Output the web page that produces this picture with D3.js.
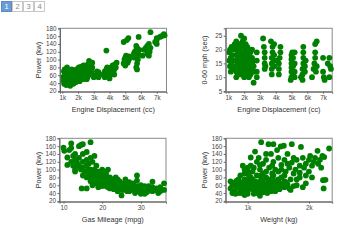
<!DOCTYPE html>
<html>
<head>
<meta charset="utf-8">
<script src="https://cdn.jsdelivr.net/npm/d3@7"></script>
<style>
  body { margin: 0; background: #fff; font-family: "Liberation Sans", Arial, sans-serif; }
  svg { display: block; }
</style>
</head>
<body>
<svg id="chart" width="350" height="248"></svg>
<script>
// displacement (k cc) vs power (kW)
const dispPower = [
  [1.1,70],[1.15,75],[1.3,80],[1.25,72],[1.2,65],[1.1,45],[1.12,38],[1.2,40],[1.25,35],[1.3,45],
  [1.35,50],[1.4,42],[1.45,38],[1.5,33],[1.55,40],[1.6,45],[1.5,50],[1.4,55],[1.3,58],[1.2,52],
  [1.45,60],[1.55,55],[1.6,62],[1.65,50],[1.7,38],[1.75,45],[1.8,52],[1.7,58],[1.8,65],[1.9,60],
  [1.95,48],[2.0,55],[2.0,65],[2.0,72],[2.05,80],[2.1,60],[2.15,68],[2.2,55],[2.25,62],[2.3,70],
  [2.3,50],[2.4,65],[2.45,58],[2.5,72],[2.55,65],[2.6,80],[2.6,55],[2.65,88],[2.7,97],[2.75,85],
  [2.8,75],[2.85,68],[2.5,85],[2.4,78],[2.2,82],[1.9,75],[1.85,42],[1.65,70],[2.1,45],[2.3,60],
  [2.55,50],[2.7,62],[2.9,80],[1.05,55],[1.15,60],[1.35,65],[1.6,75],[1.9,68],[2.15,75],[2.35,85],
  [2.9,92],[2.8,90],
  [3.0,55],[3.1,59],[3.3,68],[3.3,55],[3.3,62],[3.2,70],
  [3.8,123],[3.6,62],[3.7,70],[3.7,55],[3.8,65],[3.8,75],[3.85,80],[3.9,58],[3.95,68],[4.0,52],
  [4.0,72],[4.1,62],[4.1,80],[4.2,68],[4.2,85],[4.3,75],[4.35,88],[4.4,80],[4.45,92],[4.3,62],
  [4.9,90],[4.95,100],[5.0,95],[5.0,105],[5.05,110],[5.1,100],[5.15,92],[5.2,98],[5.25,108],[5.3,104],
  [4.9,145],[5.1,150],[5.2,155],[5.0,85],
  [5.55,115],[5.6,120],[5.65,110],[5.7,125],[5.75,130],[5.8,120],[5.85,112],[5.7,80],[5.75,90],[5.8,100],
  [5.7,135],[5.85,158],[5.9,125],[5.6,105],[5.75,75],
  [6.1,110],[6.2,125],[6.3,130],[6.4,135],[6.45,125],[6.5,140],[6.55,120],[6.5,110],[6.6,130],[6.6,170],[6.4,115],
  [6.9,145],[7.0,150],[7.0,155],[7.2,158],[7.3,160],[7.45,165],[7.5,162],[7.0,140]
];

// displacement (k cc) vs 0-60 mph (sec)
const dispAccel = [
  [1.05,16],[1.05,19],[1.1,20],[1.1,14],[1.15,17],[1.2,15],[1.25,18],[1.3,20],[1.3,13],[1.35,16],[1.2,21],[1.4,22],[1.15,12],
  [1.5,10],[1.5,12],[1.5,14],[1.5,16],[1.5,18],[1.5,20],[1.5,23],
  [1.6,11],[1.6,13],[1.6,15],[1.6,17],[1.6,19],[1.6,21],
  [1.7,12],[1.7,14],[1.7,16],[1.7,18],[1.7,20],[1.7,22],
  [1.8,11],[1.8,13],[1.8,15],[1.8,17],[1.8,19],[1.8,25],
  [1.9,12],[1.9,14],[1.9,16],[1.9,18],[1.9,21],[1.9,23],
  [2.0,10],[2.0,13],[2.0,15],[2.0,17],[2.0,19],[2.0,24],
  [2.1,11],[2.1,14],[2.1,16],[2.1,18],[2.1,20],[2.1,22],
  [2.2,12],[2.2,15],[2.2,17],[2.2,19],[2.2,21],
  [2.3,10],[2.3,13],[2.3,16],[2.3,18],[2.3,20],
  [2.4,11],[2.4,14],[2.4,16],[2.4,19],
  [2.5,12],[2.5,15],[2.5,17],[2.5,20],
  [2.6,8],[2.6,12],[2.6,14],[2.6,16],
  [2.8,10],[2.8,12],[2.8,16],[2.8,19],
  [3.2,24],[3.3,13],[3.3,15],[3.3,17],[3.3,19],[3.25,21],[3.35,14],
  [3.7,23],[3.9,22],[3.75,11],[3.75,13],[3.75,15],[3.75,17],[3.8,19],[3.8,21],[3.9,14],[3.9,16],[3.9,18],
  [4.3,21],[4.2,11],[4.2,13],[4.2,15],[4.25,17],[4.3,19],[4.1,16],
  [4.95,9],[5.0,10],[5.0,12],[5.0,13.5],[5.0,15],[5.0,16.5],[5.0,18],[5.05,19],[5.1,11],[5.1,14],
  [5.1,17],[5.2,10],[5.2,12],[5.2,15],[5.2,19],
  [5.7,9],[5.7,11],[5.7,13],[5.75,15],[5.75,17],[5.75,19],[5.75,21],[5.85,12],[5.85,14],[5.9,16],[5.6,10],
  [6.3,10],[6.4,13],[6.45,15],[6.5,22],[6.6,23],[6.5,17],[6.55,12],[6.6,14],[6.5,19],
  [7.0,17],[7.0,12],[7.1,9],[7.05,10],[7.3,15],[7.4,17],[7.4,10],[7.5,13],[7.45,14]
];

// gas mileage (mpg) vs power (kW)
const mpgPower = [
  [10,156],[10.2,148],[11,131],[11,112],[12,167],[12,155],[11.5,150],[13,140],[13,125],[13.5,118],
  [12.5,135],[14,160],[14.5,163],[15,165],[14,130],[14,110],[14.5,100],[13,100],[15,120],[15,140],
  [15.5,95],[16,110],[16,125],[16,145],[17,170],[17,130],[17.5,120],[18,100],[18,135],[14.7,52],
  [16,52],[13,95],[12,120],[15,105],[16.5,115],
  [16.5,90],[17,80],[17,70],[17,100],[17.5,85],[18,75],[18,65],[18,90],[18.5,80],[18.5,110],
  [19,95],[19,70],[19,85],[19.5,60],[19.5,78],[20,88],[20,72],[20,65],[20.5,95],[20.5,80],
  [21,70],[21,58],[21,85],[21.5,100],[21.5,65],[22,75],[22,60],[22,80],[22.5,55],[22.5,68],
  [23,72],[23,62],[23,50],[23.5,80],[23.5,58],[24,65],[24,45],[24,55],[24.5,70],[25,60],
  [25,48],[25,34],[25.5,65],[25.5,55],[26,75],[26,50],[26,62],[26.5,58],[27,68],[27,52],
  [27,45],[27.5,60],[28,55],[28,48],[28,65],[28.5,40],[29,85],[29,58],[29,50],[29.5,45],
  [30,60],[30,52],[30,38],[30.5,55],[31,48],[31,58],[31.5,42],[32,52],[32,46],[33,69],
  [33,55],[33.5,48],[34,52],[34.5,40],[35,50],[35,55],[36,65],[36,48],[17.5,60],[19,55],
  [20,100],[21,75],[24,75],[26.5,45],[29,72],[31,38],
  [16,80],[16.5,100],[17,90],[17.5,75],[17.5,95],[18,82],[18.5,70],[18.5,92],[19,62],[19,78],
  [19.5,88],[19.5,70],[20,58],[20,80],[20.5,68],[21,62],[21,92],[21.5,78],[21.5,55],[22,68],
  [22,52],[22.5,75],[23,55],[23,66],[23.5,68],[24,60],[24.5,52],[24.5,62],[25,55],[25.5,48],
  [26,56],[26.5,65],[27,58],[27.5,50],[28,60],[28.5,52],[29,45],[29.5,55],[30,48],[30.5,45],
  [31,52],[32,58],[33,45],[34,48],[35,45],[15,85],[16,95],[13.5,110],[12.5,110]
];

// weight (k kg) vs power (kW)
const weightPower = [
  [0.72,52],[0.72,70],[0.75,60],[0.78,45],[0.8,68],[0.8,38],[0.82,55],[0.85,62],[0.85,75],[0.88,48],
  [0.9,40],[0.9,58],[0.92,68],[0.95,35],[0.95,52],[0.98,62],[1.0,72],[1.0,45],[1.02,55],[1.05,65],
  [1.05,80],[1.08,50],[1.1,38],[1.1,60],[1.12,70],[1.15,55],[1.15,85],[1.18,45],[1.2,62],[1.2,33],
  [1.22,75],[1.25,55],[1.25,68],[1.28,48],[1.3,80],[1.3,60],[1.32,40],[1.35,70],[1.38,52],[1.4,65],
  [1.42,85],[1.45,58],[1.45,45],[1.48,72],[1.5,62],[1.52,50],[1.55,80],[1.6,55],[1.62,68],[1.7,48],
  [1.7,75],[1.8,60],[1.85,80],[1.95,65],[2.05,80],[1.9,55],[1.75,58],[0.88,85],[0.95,90],
  [0.75,40],[0.78,65],[0.82,72],[0.85,40],[0.88,65],[0.92,45],[0.95,75],[0.98,50],[1.0,38],[1.0,60],
  [1.02,85],[1.08,75],[1.1,48],[1.12,62],[1.15,40],[1.18,68],[1.2,52],[1.22,85],[1.25,42],[1.28,62],
  [1.3,50],[1.33,75],[1.35,58],[1.38,45],[1.4,78],[1.43,68],[1.47,52],[1.5,75],[1.53,65],[1.57,58],
  [1.6,70],[1.65,62],[1.68,52],
  [0.95,100],[1.0,95],[1.05,110],[1.05,131],[1.12,146],[1.1,105],[1.15,120],[1.2,100],[1.22,170],[1.25,115],
  [1.3,125],[1.3,95],[1.34,165],[1.35,105],[1.38,140],[1.42,165],[1.42,120],[1.45,100],[1.48,150],[1.5,130],
  [1.5,95],[1.54,159],[1.55,112],[1.59,161],[1.6,125],[1.62,95],[1.65,140],[1.68,105],[1.72,165],[1.72,118],
  [1.75,130],[1.78,100],[1.8,125],[1.85,110],[1.87,158],[1.9,130],[1.92,105],[1.95,115],[2.0,125],[2.02,135],
  [2.05,110],[2.1,130],[2.14,148],[2.15,115],[2.2,105],[2.22,135],[2.23,73],[2.24,52],[2.27,74],[2.33,154],
  [2.25,132],[1.4,90],[1.6,85],[1.85,92],[2.0,95],
  [0.92,110],[1.0,105],[1.08,95],[1.2,112],[1.25,90],[1.4,110],[1.55,100],[1.65,115],[1.75,90],[1.8,75],
  [1.95,85],[2.08,120],[2.18,125],[1.3,140],[1.18,130]
];

const powerTicks = [20, 40, 60, 80, 100, 120, 140, 160, 180];
const accelTicks = [5, 10, 15, 20, 25];
const dispTicks = [1, 2, 3, 4, 5, 6, 7];
const mpgTicks = [10, 20, 30];
const weightTicks = [1, 2];
const pages = ["1", "2", "3", "4"];

const panels = [
  { data: dispPower, x: [0.854, 7.62], y: [18, 180], xt: dispTicks, yt: powerTicks, kx: true,
    xl: "Engine Displacement (cc)", yl: "Power (kw)", left: 60, top: 28.3 },
  { data: dispAccel, x: [0.83, 7.58], y: [4.75, 27.7], xt: dispTicks, yt: accelTicks, kx: true,
    xl: "Engine Displacement (cc)", yl: "0-60 mph (sec)", left: 225.7, top: 28.3 },
  { data: mpgPower, x: [8.97, 36.5], y: [18, 180], xt: mpgTicks, yt: powerTicks, kx: false,
    xl: "Gas Mileage (mpg)", yl: "Power (kw)", left: 59.5, top: 138.3 },
  { data: weightPower, x: [0.641, 2.38], y: [18, 180], xt: weightTicks, yt: powerTicks, kx: true,
    xl: "Weight (kg)", yl: "Power (kw)", left: 225.7, top: 138.3 }
];

const svg = d3.select("#chart");
const w = 106.5, h = 63.4;

// pager
const pg = svg.append("g").attr("transform", "translate(1.5,1.5)");
pages.forEach((p, i) => {
  pg.append("rect")
    .attr("x", i * 11).attr("y", 0).attr("width", 10).attr("height", 10)
    .attr("fill", i === 0 ? "#6b9bd6" : "#fff")
    .attr("stroke", i === 0 ? "#5a8ac8" : "#c8c8c8").attr("stroke-width", 1);
  pg.append("text")
    .attr("x", i * 11 + 5).attr("y", 5.3)
    .attr("text-anchor", "middle").attr("dominant-baseline", "middle")
    .attr("font-size", 7.5).attr("fill", i === 0 ? "#fff" : "#888")
    .text(p);
});

for (let p of panels) {
  let g = svg.append("g").attr("transform", `translate(${p.left},${p.top})`);
  let x = d3.scaleLinear().domain(p.x).range([0, w]);
  let y = d3.scaleLinear().domain(p.y).range([h, 0]);

  g.append("rect").attr("width", w).attr("height", h)
    .attr("fill", "none").attr("stroke", "#8a8a8a").attr("stroke-width", 1);

  g.selectAll("circle").data(p.data).join("circle")
    .attr("cx", d => x(d[0])).attr("cy", d => y(d[1]))
    .attr("r", 2.9).attr("fill", "#008000");

  let xa = g.append("g").attr("transform", `translate(0,${h})`)
    .call(d3.axisBottom(x).tickValues(p.xt).tickSize(2).tickPadding(1.5)
      .tickFormat(d => p.kx ? d + "k" : d));
  let ya = g.append("g")
    .call(d3.axisLeft(y).tickValues(p.yt).tickSize(2).tickPadding(1.5));
  for (let a of [xa, ya]) {
    a.select(".domain").attr("stroke", "#666");
    a.selectAll(".tick line").attr("stroke", "#666");
    a.selectAll("text").attr("font-size", 6.3).attr("fill", "#444")
      .attr("font-family", "Liberation Sans, Arial, sans-serif");
  }

  g.append("text").attr("x", w / 2).attr("y", h + 18.5)
    .attr("text-anchor", "middle").attr("dominant-baseline", "middle")
    .attr("font-size", 7.3).attr("fill", "#333").text(p.xl);
  g.append("text")
    .attr("transform", `translate(-20.5,${h / 2}) rotate(-90)`)
    .attr("text-anchor", "middle").attr("dominant-baseline", "middle")
    .attr("font-size", 7.3).attr("fill", "#333").text(p.yl);
}
</script>
</body>
</html>
